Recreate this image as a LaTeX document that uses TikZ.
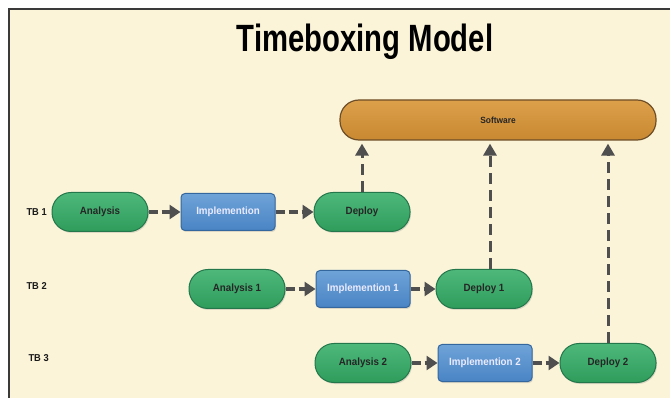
\documentclass[tikz,border=0pt]{standalone}
\usepackage{fontspec}
\setmainfont{Liberation Sans}[FakeStretch=0.93]
\newfontfamily\titlefont{Liberation Sans}[FakeStretch=0.77]
\usetikzlibrary{arrows.meta,shadows}

\definecolor{paper}{HTML}{FBF4D9}
\definecolor{frameline}{HTML}{3A3A3A}
\definecolor{greenfill}{HTML}{2F9C5C}
\definecolor{greenlight}{HTML}{4DB87A}
\definecolor{greenedge}{HTML}{23774A}
\definecolor{bluefill}{HTML}{4A84C4}
\definecolor{bluelight}{HTML}{6EA3D8}
\definecolor{blueedge}{HTML}{35679F}
\definecolor{barfill}{HTML}{C98832}
\definecolor{barlight}{HTML}{DDA04A}
\definecolor{baredge}{HTML}{6E4E26}
\definecolor{arrowgray}{HTML}{4F4F4F}

\tikzset{
  phase/.style={draw=greenedge, line width=1pt, top color=greenlight, bottom color=greenfill,
    rounded corners=19pt, minimum width=96pt, minimum height=39pt,
    font=\bfseries\fontsize{10.5}{12}\selectfont, text=black!85,
    drop shadow={opacity=0.25, shadow xshift=1pt, shadow yshift=-1.5pt}},
  build/.style={draw=blueedge, line width=1pt, top color=bluelight, bottom color=bluefill,
    rounded corners=4pt, minimum width=94pt, minimum height=37pt,
    font=\bfseries\fontsize{10.5}{12}\selectfont, text=white!92!blue,
    drop shadow={opacity=0.25, shadow xshift=1pt, shadow yshift=-1.5pt}},
  product/.style={draw=baredge, line width=1.2pt, top color=barlight, bottom color=barfill,
    rounded corners=19pt, minimum width=316pt, minimum height=40pt,
    font=\bfseries\fontsize{9}{11}\selectfont, text=black!85},
  rowlabel/.style={font=\bfseries\fontsize{10}{12}\selectfont, text=black!90, anchor=west},
  flow/.style={draw=arrowgray, line width=3.2pt, dash pattern=on 9pt off 4pt,
    -{Triangle[length=11pt,width=14pt]}},
  release/.style={draw=arrowgray, line width=3pt, dash pattern=on 11pt off 6pt,
    -{Triangle[length=12pt,width=13pt]}, shorten >=3pt}
}

\begin{document}
\begin{tikzpicture}[x=1pt, y=-1pt]
  \useasboundingbox (0,0) rectangle (670,398);
  % page and frame
  \fill[white] (0,0) rectangle (670,398);
  \fill[paper] (10,10) rectangle (670,398);
  \draw[frameline, line width=2.2pt] (670,9) -- (9,9) -- (9,398);

  % title
  \node (title) at (365,42) {\titlefont\bfseries\fontsize{38}{40}\selectfont Timeboxing Model};

  % delivered product
  \node[product] (sw) at (498,120) {Software};

  % row labels
  \node[rowlabel] (tb1) at (23,212) {TB 1};
  \node[rowlabel] (tb2) at (23,286) {TB 2};
  \node[rowlabel] (tb3) at (25,358) {TB 3};

  % timebox 1
  \node[phase] (an0)  at (100,212) {Analysis};
  \node[build] (im0)  at (228,212) {Implemention};
  \node[phase] (dep0) at (362,212) {Deploy};

  % timebox 2
  \node[phase] (an1)  at (237,289) {Analysis 1};
  \node[build] (im1)  at (363,289) {Implemention 1};
  \node[phase] (dep1) at (484,289) {Deploy 1};

  % timebox 3
  \node[phase] (an2)  at (363,363) {Analysis 2};
  \node[build] (im2)  at (485,363) {Implemention 2};
  \node[phase] (dep2) at (608,363) {Deploy 2};

  % stage-to-stage flow
  \draw[flow] (an0) -- (im0);
  \draw[flow] (im0) -- (dep0);
  \draw[flow] (an1) -- (im1);
  \draw[flow] (im1) -- (dep1);
  \draw[flow] (an2) -- (im2);
  \draw[flow] (im2) -- (dep2);

  % each deployment feeds the product
  \draw[release] (dep0.north) -- (dep0.north |- sw.south);
  \draw[release] ([xshift=6pt]dep1.north) -- ([xshift=6pt]dep1.north |- sw.south);
  \draw[release] (dep2.north) -- (dep2.north |- sw.south);
\end{tikzpicture}
\end{document}
